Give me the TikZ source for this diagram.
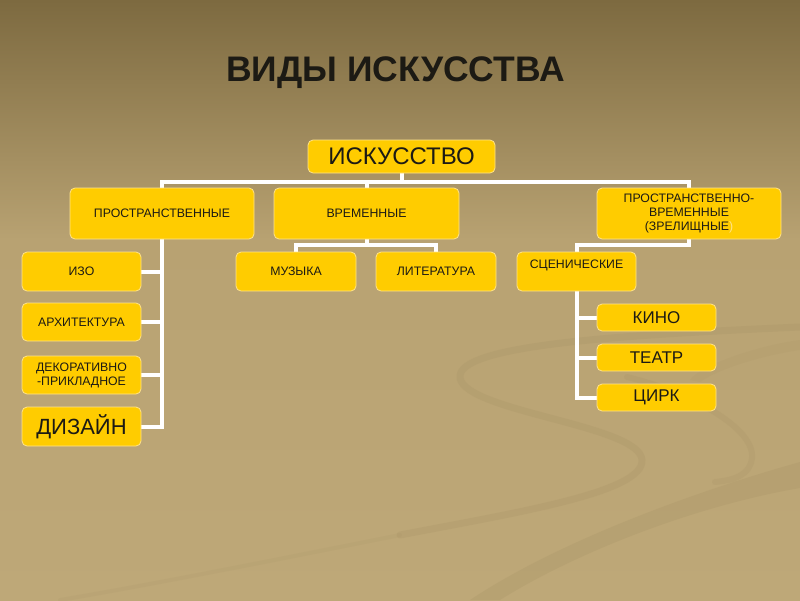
\documentclass[tikz,border=0pt]{standalone}
\usepackage{fontspec}
\setmainfont{Liberation Sans}
\pgfdeclarelayer{bg}
\pgfdeclarelayer{lines}
\pgfsetlayers{bg,lines,main}
\definecolor{bgtop}{HTML}{7D6A40}
\definecolor{bgmid}{HTML}{B8A272}
\definecolor{bgbot}{HTML}{BEA878}
\definecolor{boxfill}{HTML}{FFCC00}
\definecolor{boxedge}{HTML}{FFE38A}
\definecolor{ink}{HTML}{1C1A14}
\definecolor{swoosh}{HTML}{9E8A5E}
\tikzset{
  box/.style={draw=boxedge, line width=0.8pt, fill=boxfill, rounded corners=5pt,
    inner sep=0pt, align=center, text=ink},
  small/.style={font=\fontsize{12.3}{14}\selectfont},
  mid/.style={font=\fontsize{17}{19}\selectfont},
  big/.style={font=\fontsize{22}{24}\selectfont},
  bigger/.style={font=\fontsize{24}{26}\selectfont},
  conn/.style={draw=white, line width=4pt},
  swoo/.style={draw=swoosh, line cap=round},
}
\begin{document}
\begin{tikzpicture}[x=1pt,y=-1pt]
\useasboundingbox (0,0) rectangle (800,600);
\begin{pgfonlayer}{bg}
  \fill[bgbot] (0,0) rectangle (800,600);
  \shade[top color=bgtop, bottom color=bgmid] (0,0) rectangle (800,240);
  \shade[top color=bgmid, bottom color=bgbot] (0,239) rectangle (800,600);
  % faint swooshes
  \draw[swoo, line width=7pt, opacity=0.18] (800,327) .. controls (620,335) and (455,345) .. (460,378)
     .. controls (466,412) and (640,425) .. (642,460)
     .. controls (644,492) and (520,512) .. (400,535);
  \draw[swoo, line width=4pt, opacity=0.1] (400,535) .. controls (300,555) and (150,585) .. (60,600);
  \draw[swoo, line width=6pt, opacity=0.16] (627,377) .. controls (690,392) and (755,428) .. (752,458)
     .. controls (750,475) and (735,480) .. (715,482);
  \fill[swoosh, opacity=0.2] (800,462) .. controls (700,490) and (560,540) .. (470,600)
     -- (500,600) .. controls (580,550) and (700,505) .. (800,488) -- cycle;
  \fill[swoosh, opacity=0.1] (800,340) .. controls (760,345) and (700,365) .. (690,380)
     -- (700,382) .. controls (720,368) and (765,355) .. (800,350) -- cycle;
\end{pgfonlayer}

\node[font=\bfseries\fontsize{35.5}{38}\selectfont, text=ink] (title) at (395.5,73) {ВИДЫ ИСКУССТВА};

\node[box, bigger, minimum width=187pt, minimum height=33pt] (root) at (401.5,156.5) {ИСКУССТВО};

\node[box, small, minimum width=184pt, minimum height=51pt] (pr) at (162,213.5) {ПРОСТРАНСТВЕННЫЕ};
\node[box, small, minimum width=185pt, minimum height=51pt] (vr) at (366.5,213.5) {ВРЕМЕННЫЕ};
\node[box, small, minimum width=184pt, minimum height=51pt] (pv) at (689,213.5)
  {ПРОСТРАНСТВЕННО-\\ВРЕМЕННЫЕ\\(ЗРЕЛИЩНЫЕ\textcolor{boxedge}{)}};

\node[box, small, minimum width=119pt, minimum height=39pt] (izo) at (81.5,271.5) {ИЗО};
\node[box, small, minimum width=119pt, minimum height=38pt] (arh) at (81.5,322) {АРХИТЕКТУРА};
\node[box, small, minimum width=119pt, minimum height=38pt] (dek) at (81.5,375) {ДЕКОРАТИВНО\\-ПРИКЛАДНОЕ};
\node[box, big, minimum width=119pt, minimum height=39pt] (dz) at (81.5,426.5) {ДИЗАЙН};

\node[box, small, minimum width=120pt, minimum height=39pt] (muz) at (296,271.5) {МУЗЫКА};
\node[box, small, minimum width=120pt, minimum height=39pt] (lit) at (436,271.5) {ЛИТЕРАТУРА};

\node[box, small, minimum width=119pt, minimum height=39pt] (sc) at (576.5,271.5) {СЦЕНИЧЕСКИЕ\\\mbox{}};

\node[box, mid, minimum width=119pt, minimum height=27pt] (kino) at (656.5,317.5) {КИНО};
\node[box, mid, minimum width=119pt, minimum height=27pt] (teatr) at (656.5,357.5) {ТЕАТР};
\node[box, mid, minimum width=119pt, minimum height=27pt] (cirk) at (656.5,397.5) {ЦИРК};

\coordinate (bar) at (0,182);
\coordinate (vbar) at (0,245);

\begin{pgfonlayer}{lines}
  \draw[conn] (root.south) -- (root.south |- bar);
  \draw[conn] (pr.north) -- (pr.north |- bar) -- (pv.north |- bar) -- (pv.north);
  \draw[conn] (vr.north) -- (vr.north |- bar);

  \draw[conn] (pr.south) |- (dz.east);
  \draw[conn] (izo.east) -- (izo.east -| pr.south);
  \draw[conn] (arh.east) -- (arh.east -| pr.south);
  \draw[conn] (dek.east) -- (dek.east -| pr.south);

  \draw[conn] (vr.south) -- (vr.south |- vbar);
  \draw[conn] (muz.north) -- (muz.north |- vbar) -- (lit.north |- vbar) -- (lit.north);

  \draw[conn] (pv.south) -- (pv.south |- vbar) -| (sc.north);

  \draw[conn] (sc.south) |- (cirk.west);
  \draw[conn] (kino.west) -- (kino.west -| sc.south);
  \draw[conn] (teatr.west) -- (teatr.west -| sc.south);
\end{pgfonlayer}
\end{tikzpicture}
\end{document}
